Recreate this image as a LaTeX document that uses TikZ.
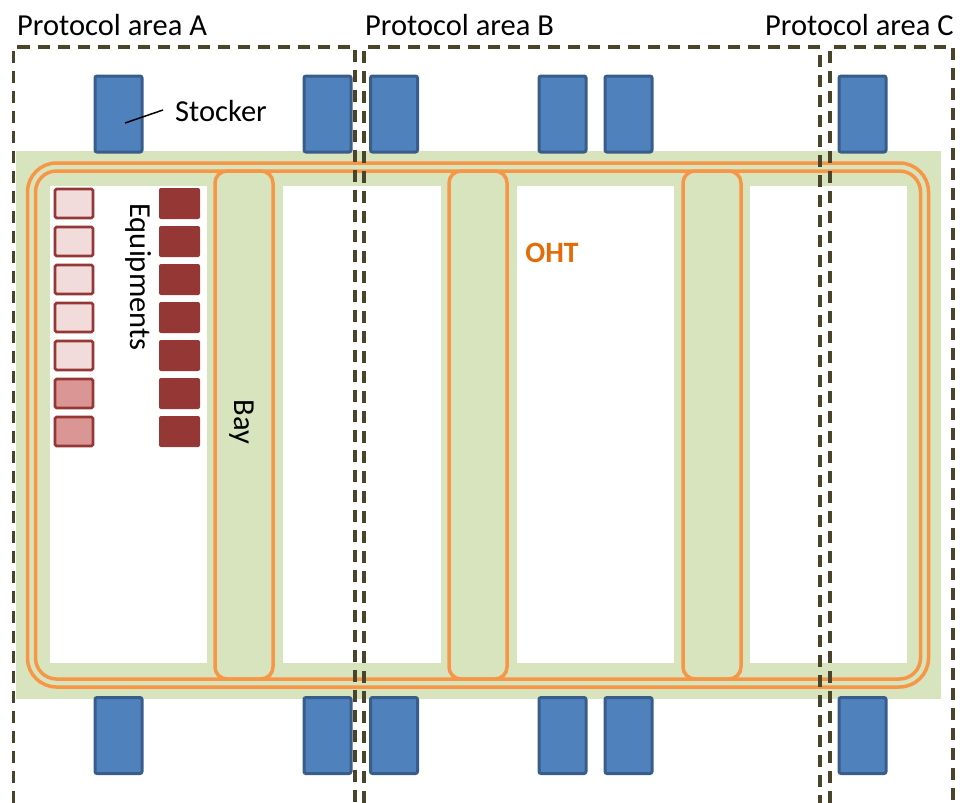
\documentclass[tikz,border=0pt]{standalone}
\usepackage{fontspec}
\setmainfont{Carlito}
\definecolor{bggreen}{HTML}{D7E4BD}
\definecolor{ohtorange}{HTML}{F79646}
\definecolor{ohttext}{HTML}{E36C09}
\definecolor{stkfill}{HTML}{4F81BD}
\definecolor{stkdraw}{HTML}{385D8A}
\definecolor{eqdark}{HTML}{953735}
\definecolor{eqlight}{HTML}{F2DCDB}
\definecolor{eqmid}{HTML}{D99694}
\definecolor{areadash}{HTML}{4A452A}
\tikzset{
  lbl/.style={font=\fontsize{30.5}{36}\selectfont, inner sep=0pt},
  stocker/.style={draw=stkdraw, fill=stkfill, line width=3pt, rounded corners=2pt,
    minimum width=47pt, minimum height=76pt, inner sep=0pt},
  eqlow/.style={draw=eqdark, fill=eqlight, line width=2.8pt, rounded corners=1.5pt,
    minimum width=38pt, minimum height=29pt, inner sep=0pt},
  eqmidbox/.style={eqlow, fill=eqmid},
  eqhigh/.style={fill=eqdark, rounded corners=2pt,
    minimum width=41pt, minimum height=31pt, inner sep=0pt},
  track/.style={draw=ohtorange, line width=3.5pt},
  area/.style={draw=areadash, line width=3.5pt, dash pattern=on 12pt off 8pt},
}
\begin{document}
\begin{tikzpicture}[x=1pt,y=-1pt]
\useasboundingbox (0,0) rectangle (964,803);
% floor
\fill[bggreen] (16,151) rectangle (941,699);
\fill[white] (50,186) rectangle (207,663);
\fill[white] (283,186) rectangle (441,663);
\fill[white] (517,186) rectangle (674,663);
\fill[white] (750,186) rectangle (907,663);
% OHT tracks
\draw[track, rounded corners=29pt] (27.5,163) rectangle (928.5,687);
\draw[track, rounded corners=21pt] (35.5,171) rectangle (920.5,679);
\draw[track, rounded corners=12pt] (215,171) rectangle (273,679);
\draw[track, rounded corners=12pt] (449,171) rectangle (507,679);
\draw[track, rounded corners=12pt] (683,171) rectangle (741,679);
% stockers
\foreach \n/\x in {1/118.5,2/327.5,3/394,4/562.5,5/628.5,6/862.5}{
  \node[stocker] (st\n) at (\x,114) {};
  \node[stocker] (sb\n) at (\x,735.5) {};
}
% equipments
\foreach \i/\y in {1/203.5,2/241.5,3/279.5,4/317.5,5/355.5}{
  \node[eqlow] (el\i) at (74,\y) {};
}
\foreach \i/\y in {6/393.5,7/431.5}{
  \node[eqmidbox] (el\i) at (74,\y) {};
}
\foreach \i/\y in {1/203.5,2/241.5,3/279.5,4/317.5,5/355.5,6/393.5,7/431.5}{
  \node[eqhigh] (eh\i) at (179.5,\y) {};
}
% labels
\node[lbl, anchor=base west] (pa) at (17,35) {Protocol area A};
\node[lbl, anchor=base west] (pb) at (365,35) {Protocol area B};
\node[lbl, anchor=base west] (pc) at (765,35) {Protocol area C};
\node[lbl, anchor=base west] (stl) at (175,121) {Stocker};
\coordinate (stp) at (125,123);
\draw[line width=1.5pt] (stp) -- (163,110);
\node[lbl, rotate=-90] (eql) at (139,277) {Equipments};
\node[lbl, rotate=-90] (bayl) at (242,422) {Bay};
\node[lbl, font=\fontsize{29.5}{34}\selectfont\bfseries, text=ohttext] (oht) at (552,253) {OHT};
% protocol areas
\draw[area] (13.5,803) -- (13.5,47) -- (355,47) -- (355,803);
\draw[area] (364,803) -- (364,47) -- (820,47) -- (820,803);
\draw[area] (830,803) -- (830,47) -- (953,47) -- (953,803);
\end{tikzpicture}
\end{document}
